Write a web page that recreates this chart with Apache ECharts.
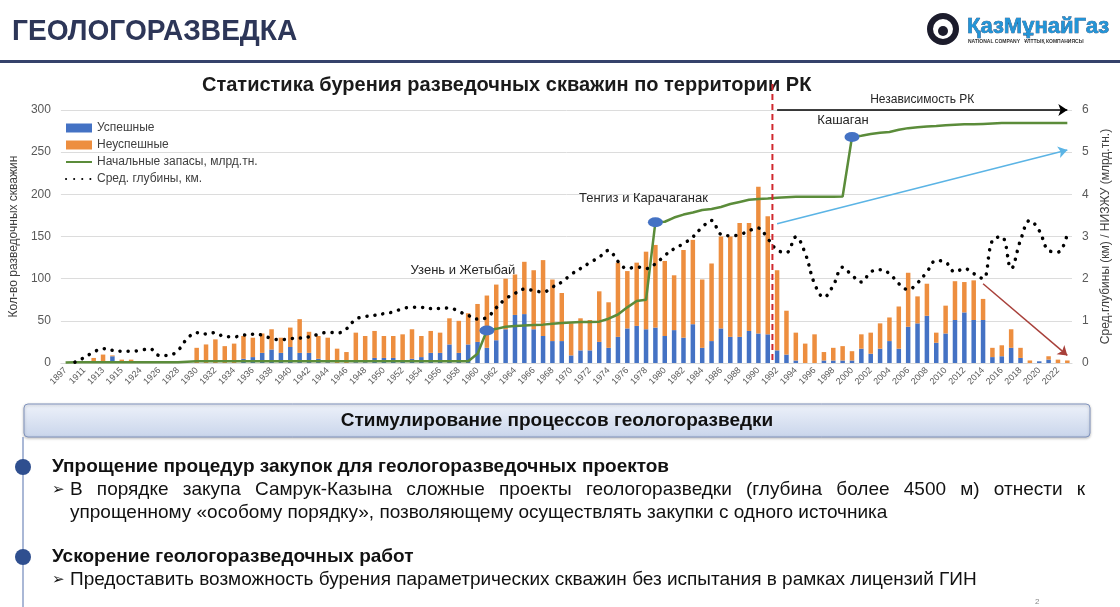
<!DOCTYPE html>
<html>
<head>
<meta charset="utf-8">
<script src="https://cdn.jsdelivr.net/npm/echarts@6/dist/echarts.min.js"></script>
<style>
html, body { margin: 0; padding: 0; background: #fff; }
#main { width: 1120px; height: 607px; }
</style>
</head>
<body>
<div id="main"></div>
<script>
// годы (категории оси X)
var years = ['1897','1910','1911','1912','1913','1914','1915','1923','1924','1925','1926','1927','1928','1929',
  '1930','1931','1932','1933','1934','1935','1936','1937','1938','1939',
  '1940','1941','1942','1943','1944','1945','1946','1947','1948','1949',
  '1950','1951','1952','1953','1954','1955','1956','1957','1958','1959',
  '1960','1961','1962','1963','1964','1965','1966','1967','1968','1969',
  '1970','1971','1972','1973','1974','1975','1976','1977','1978','1979',
  '1980','1981','1982','1983','1984','1985','1986','1987','1988','1989',
  '1990','1991','1992','1993','1994','1995','1996','1997','1998','1999',
  '2000','2001','2002','2003','2004','2005','2006','2007','2008','2009',
  '2010','2011','2012','2013','2014','2015','2016','2017','2018','2019',
  '2020','2021','2022','2023'];

// успешные скважины
var success = [0,0,0,0,2,8,0,0,0,0,0,0,0,0,
  0,0,0,0,0,5,7,12,16,12,
  19,12,12,5,1,0,0,1,1,6,
  6,6,3,5,7,12,12,22,12,22,
  25,18,27,40,57,58,40,32,26,26,
  9,15,15,25,18,31,41,44,40,42,
  32,39,30,46,18,26,41,31,31,38,
  35,34,15,10,3,0,0,3,3,3,
  3,17,11,17,26,17,43,47,56,24,
  35,51,60,51,51,7,8,18,6,0,
  2,4,0,0];

// неуспешные скважины
var failed = [0,0,0,6,8,1,4,4,1,0,0,0,1,0,
  18,22,28,20,23,27,23,23,24,18,
  23,40,25,27,29,17,13,35,31,32,
  26,26,31,35,25,26,24,31,38,37,
  45,62,66,60,48,62,70,90,73,57,
  38,38,36,60,54,88,68,75,92,98,
  89,65,104,100,81,92,109,119,135,128,
  174,140,95,52,33,23,34,10,15,17,
  11,17,25,30,28,50,64,32,38,12,
  33,46,36,47,25,11,13,22,12,3,
  0,4,4,3];

// средняя глубина, км
var depth = [null,0.02,0.13,0.26,0.34,0.30,0.28,0.28,0.30,0.34,0.18,0.18,0.30,0.58,
  0.72,0.69,0.72,0.62,0.62,0.66,0.68,0.66,0.58,0.55,
  0.58,0.59,0.62,0.68,0.73,0.71,0.81,1.04,1.10,1.13,
  1.17,1.21,1.29,1.32,1.32,1.29,1.29,1.31,1.22,1.13,
  1.04,1.08,1.31,1.52,1.65,1.75,1.72,1.68,1.80,1.92,
  2.10,2.24,2.38,2.51,2.67,2.41,2.24,2.28,2.24,2.35,
  2.55,2.71,2.83,2.99,3.22,3.38,3.05,3.02,3.04,3.14,
  3.20,2.95,2.68,2.62,2.99,2.60,1.88,1.56,1.84,2.27,
  2.08,1.92,2.16,2.21,2.12,1.88,1.74,1.90,2.16,2.43,
  2.39,2.16,2.24,2.12,2.00,2.91,2.99,2.24,2.91,3.38,
  3.14,2.67,2.63,3.06];

// начальные запасы, млрд.тн.
var reserves = [0.01,0.02,0.02,0.02,0.02,0.02,0.02,0.02,0.02,0.02,0.02,0.02,0.02,0.03,
  0.04,0.04,0.04,0.04,0.04,0.04,0.04,0.04,0.04,0.04,
  0.04,0.04,0.04,0.04,0.04,0.04,0.04,0.04,0.04,0.04,
  0.04,0.04,0.04,0.04,0.04,0.04,0.04,0.04,0.04,0.04,
  0.22,0.77,0.81,0.86,0.88,0.89,0.90,0.91,0.93,0.95,
  0.96,0.97,0.97,0.98,1.05,1.15,1.32,1.47,1.50,3.34,
  3.35,3.45,3.52,3.57,3.63,3.65,3.70,3.77,3.82,3.87,
  3.89,3.90,3.92,3.93,3.94,3.94,3.94,3.94,3.94,3.95,
  5.36,5.39,5.43,5.46,5.48,5.53,5.57,5.59,5.61,5.62,
  5.64,5.65,5.66,5.66,5.67,5.68,5.69,5.69,5.69,5.69,
  5.69,5.69,5.69,5.69];

// открытия месторождений
var fieldYears = ['1961','1979','2000'];
var fieldNames = ['Узень и Жетыбай','Тенгиз и Карачаганак','Кашаган'];
var fieldOffsets = [[-24,-44],[-12,-7],[-9,0]];

var font = '"Liberation Sans", Arial, sans-serif';
var chart = echarts.init(document.getElementById('main'));
var noMarker = { color: 'rgba(0,0,0,0)', borderWidth: 0 };

var option = {
    animation: false,
    textStyle: { fontFamily: font },
    title: {
        text: 'Статистика бурения разведочных скважин по территории РК',
        left: 197,
        top: 70,
        textStyle: { fontSize: 20, fontWeight: 'bold', color: '#1a1a1a', fontFamily: font }
    },
    legend: {
        orient: 'vertical',
        left: 60,
        top: 117,
        itemWidth: 26,
        itemHeight: 9,
        itemGap: 5,
        textStyle: { fontSize: 12, color: '#404040' },
        data: [
            { name: 'Успешные', icon: 'rect' },
            { name: 'Неуспешные', icon: 'rect' },
            { name: 'Начальные запасы, млрд.тн.', itemStyle: noMarker },
            { name: 'Сред. глубины, км.', itemStyle: noMarker }
        ]
    },
    grid: { left: 57, right: 44, top: 110, bottom: 244 },
    xAxis: {
        type: 'category',
        data: years,
        axisTick: { show: false },
        axisLine: { lineStyle: { color: '#D9D9D9' } },
        axisLabel: { interval: 1, rotate: 45, fontSize: 9, color: '#595959', margin: 6 }
    },
    yAxis: [{
        type: 'value',
        min: 0, max: 300, interval: 50,
        name: 'Кол-во разведочных скважин',
        nameLocation: 'middle',
        nameGap: 38,
        nameRotate: 90,
        nameTextStyle: { fontSize: 12, color: '#404040' },
        axisLabel: { fontSize: 12, color: '#595959', margin: 10 },
        splitLine: { lineStyle: { color: '#DCDCDC' } }
    }, {
        type: 'value',
        min: 0, max: 6, interval: 1,
        name: 'Сред.глубины (км) / НИЗЖУ (млрд.тн.)',
        nameLocation: 'middle',
        nameGap: 28,
        nameRotate: 90,
        nameTextStyle: { fontSize: 12, color: '#404040' },
        axisLabel: { fontSize: 12, color: '#595959', margin: 10 },
        splitLine: { show: false }
    }],
    series: [{
        name: 'Успешные',
        type: 'bar',
        stack: 'wells',
        barWidth: 4.5,
        itemStyle: { color: '#4472C4' },
        data: success
    }, {
        name: 'Неуспешные',
        type: 'bar',
        stack: 'wells',
        barWidth: 4.5,
        itemStyle: { color: '#ED8E3F' },
        data: failed
    }, {
        name: 'Начальные запасы, млрд.тн.',
        type: 'line',
        yAxisIndex: 1,
        symbol: 'none',
        lineStyle: { color: '#5B8C3A', width: 2.5 },
        itemStyle: { color: '#5B8C3A' },
        z: 4,
        data: reserves,
        markPoint: {
            symbol: 'circle',
            symbolSize: [15, 10],
            itemStyle: { color: '#4472C4' },
            label: { show: true, position: 'top', fontSize: 13, color: '#262626' },
            data: fieldYears.map(function (y, i) {
                return {
                    name: fieldNames[i],
                    coord: [y, reserves[years.indexOf(y)]],
                    label: { formatter: fieldNames[i], offset: fieldOffsets[i] }
                };
            })
        }
    }, {
        name: 'Сред. глубины, км.',
        type: 'line',
        yAxisIndex: 1,
        symbol: 'none',
        smooth: 0.4,
        connectNulls: true,
        lineStyle: { color: '#000', width: 3.5, type: [0.1, 8], cap: 'round' },
        itemStyle: { color: '#000' },
        z: 5,
        data: depth,
        markLine: {
            silent: true,
            symbol: ['none', 'arrow'],
            symbolSize: 9,
            data: [
                [{ coord: ['1992', 6] }, {
                    coord: ['2023', 6],
                    lineStyle: { color: '#000', width: 1.5, type: 'solid' },
                    label: { show: true, position: 'middle', formatter: 'Независимость РК', fontSize: 12, color: '#262626', distance: 4 }
                }],
                [{ coord: ['1992', 3.3] }, {
                    coord: ['2023', 5.05],
                    lineStyle: { color: '#5BB4E5', width: 1.5, type: 'solid' },
                    label: { show: false }
                }],
                [{ coord: ['2014', 1.88] }, {
                    coord: ['2023', 0.18],
                    lineStyle: { color: '#A8403A', width: 1.5, type: 'solid' },
                    label: { show: false }
                }]
            ]
        }
    }]
};
chart.setOption(option);

// оформление слайда
var x91 = chart.convertToPixel({ xAxisIndex: 0 }, '1991');
var x92 = chart.convertToPixel({ xAxisIndex: 0 }, '1992');
var yZero = chart.convertToPixel({ yAxisIndex: 0 }, 0);
var lineX = (x91 + x92) / 2;

var bodyFont = '19px ' + font;
var boldFont = 'bold 19px ' + font;

// строка с выравниванием по ширине
var justified = 'В порядке закупа Самрук-Казына сложные проекты геологоразведки (глубина более 4500 м) отнести к'.split(' ');
var ctx = document.createElement('canvas').getContext('2d');
ctx.font = bodyFont;
var wordsWidth = 0;
justified.forEach(function (w) { wordsWidth += ctx.measureText(w).width; });
var lineLeft = 70, lineRight = 1085;
var space = (lineRight - lineLeft - wordsWidth) / (justified.length - 1);

var graphics = [
    { type: 'text', x: 12, y: 17, scaleX: 0.936, style: { text: 'ГЕОЛОГОРАЗВЕДКА', font: 'bold 30px ' + font, fill: '#2D3658' } },
    { type: 'rect', shape: { x: 0, y: 60, width: 1120, height: 3 }, style: { fill: '#35426B' } },
    { type: 'circle', shape: { cx: 943, cy: 29, r: 13 }, style: { fill: 'none', stroke: '#1c1c2c', lineWidth: 6 } },
    { type: 'circle', shape: { cx: 943, cy: 31, r: 5 }, style: { fill: '#1c1c2c' } },
    { type: 'text', x: 967, y: 16, style: { text: 'ҚазМұнайГаз', font: 'bold 22px ' + font, fill: '#2394D6', stroke: '#1a3a6a', lineWidth: 0.6 } },
    { type: 'text', x: 968, y: 39, style: { text: 'NATIONAL COMPANY   ҰЛТТЫҚ КОМПАНИЯСЫ', font: 'bold 5px ' + font, fill: '#333' } },
    { type: 'line', shape: { x1: lineX, y1: 84, x2: lineX, y2: yZero }, style: { stroke: '#D0282E', lineWidth: 2, lineDash: [6, 4] }, z: 10 },
    { type: 'rect', shape: { x: 24, y: 404, width: 1066, height: 33, r: 4 },
      style: { fill: new echarts.graphic.LinearGradient(0, 0, 0, 1, [{ offset: 0, color: '#EEF2FA' }, { offset: 1, color: '#C9D5EB' }]),
               stroke: '#8194BE', lineWidth: 1, shadowBlur: 3, shadowColor: 'rgba(0,0,0,0.25)', shadowOffsetY: 1 } },
    { type: 'text', x: 557, y: 421, style: { text: 'Стимулирование процессов геологоразведки', font: boldFont, fill: '#111', align: 'center', verticalAlign: 'middle' } },
    { type: 'line', shape: { x1: 23, y1: 437, x2: 23, y2: 607 }, style: { stroke: '#8EA0C8', lineWidth: 1.5 } },
    { type: 'circle', shape: { cx: 23, cy: 467, r: 8 }, style: { fill: '#2F4F8F' } },
    { type: 'circle', shape: { cx: 23, cy: 557, r: 8 }, style: { fill: '#2F4F8F' } },
    { type: 'text', x: 52, y: 467, style: { text: 'Упрощение процедур закупок для геологоразведочных проектов', font: boldFont, fill: '#111', verticalAlign: 'middle' } },
    { type: 'text', x: 52, y: 490, style: { text: '➢', font: '15px "DejaVu Sans", sans-serif', fill: '#111', verticalAlign: 'middle' } },
    { type: 'text', x: 70, y: 513, style: { text: 'упрощенному «особому порядку», позволяющему осуществлять закупки с одного источника', font: bodyFont, fill: '#111', verticalAlign: 'middle' } },
    { type: 'text', x: 52, y: 557, style: { text: 'Ускорение геологоразведочных работ', font: boldFont, fill: '#111', verticalAlign: 'middle' } },
    { type: 'text', x: 52, y: 580, style: { text: '➢', font: '15px "DejaVu Sans", sans-serif', fill: '#111', verticalAlign: 'middle' } },
    { type: 'text', x: 70, y: 580, style: { text: 'Предоставить возможность бурения параметрических скважин без испытания в рамках лицензий ГИН', font: bodyFont, fill: '#111', verticalAlign: 'middle' } },
    { type: 'text', x: 1035, y: 598, style: { text: '2', font: '8px ' + font, fill: '#888' } }
];
var cursor = lineLeft;
justified.forEach(function (w) {
    graphics.push({ type: 'text', x: cursor, y: 490, style: { text: w, font: bodyFont, fill: '#111', verticalAlign: 'middle' } });
    cursor += ctx.measureText(w).width + space;
});
chart.setOption({ graphic: graphics });
</script>
</body>
</html>
